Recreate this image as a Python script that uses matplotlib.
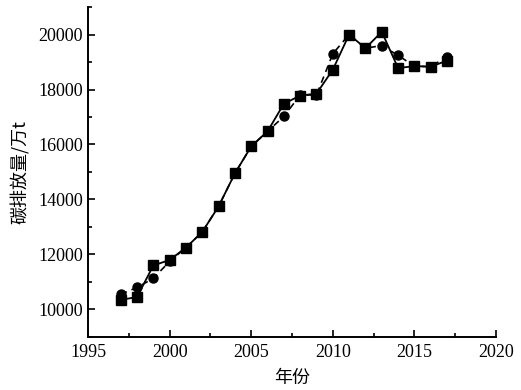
import matplotlib
matplotlib.use("Agg")
import matplotlib.pyplot as plt
from matplotlib.ticker import MultipleLocator

# Data
years = list(range(1997, 2018))
actual = [10350, 10450, 11600, 11800, 12250, 12820, 13750, 14950, 15930, 16480,
          17480, 17780, 17850, 18720, 20000, 19500, 20100, 18780, 18850, 18830, 19050]
fitted = [10550, 10800, 11130, 11750, 12250, 12820, 13750, 14950, 15930, 16480,
          17020, 17800, 17800, 19300, 20000, 19500, 19600, 19240, 18850, 18830, 19200]

plt.rcParams["font.family"] = ["Liberation Serif", "Noto Sans CJK SC"]

fig = plt.figure(figsize=(5.21, 3.90), dpi=100)
ax = fig.add_axes([0.169, 0.136, 0.783, 0.846])

ax.plot(years, actual, color="black", linestyle="-", linewidth=1.3,
        marker="s", markersize=6.5)
ax.plot(years, fitted, color="black", linestyle=(0, (4, 3)), linewidth=1.2,
        marker="o", markersize=6.5)

ax.set_xlim(1995, 2020)
ax.set_ylim(9000, 21000)
ax.set_xticks([1995, 2000, 2005, 2010, 2015, 2020])
ax.set_yticks([10000, 12000, 14000, 16000, 18000, 20000])
ax.xaxis.set_minor_locator(MultipleLocator(2.5))
ax.yaxis.set_minor_locator(MultipleLocator(1000))
ax.tick_params(which="both", direction="in", labelsize=13, width=1.2)
ax.tick_params(which="major", length=5)
ax.tick_params(axis="x", which="major", pad=5)
ax.tick_params(which="minor", length=3)

for side in ["top", "right"]:
    ax.spines[side].set_visible(False)
for side in ["left", "bottom"]:
    ax.spines[side].set_linewidth(1.4)

ax.set_xlabel("年份", fontsize=13, family=["Noto Sans CJK SC"], labelpad=6)
ax.set_ylabel("碳排放量/万t", fontsize=13, family=["Noto Sans CJK SC"], labelpad=6)

fig.savefig("out.png", dpi=100)
